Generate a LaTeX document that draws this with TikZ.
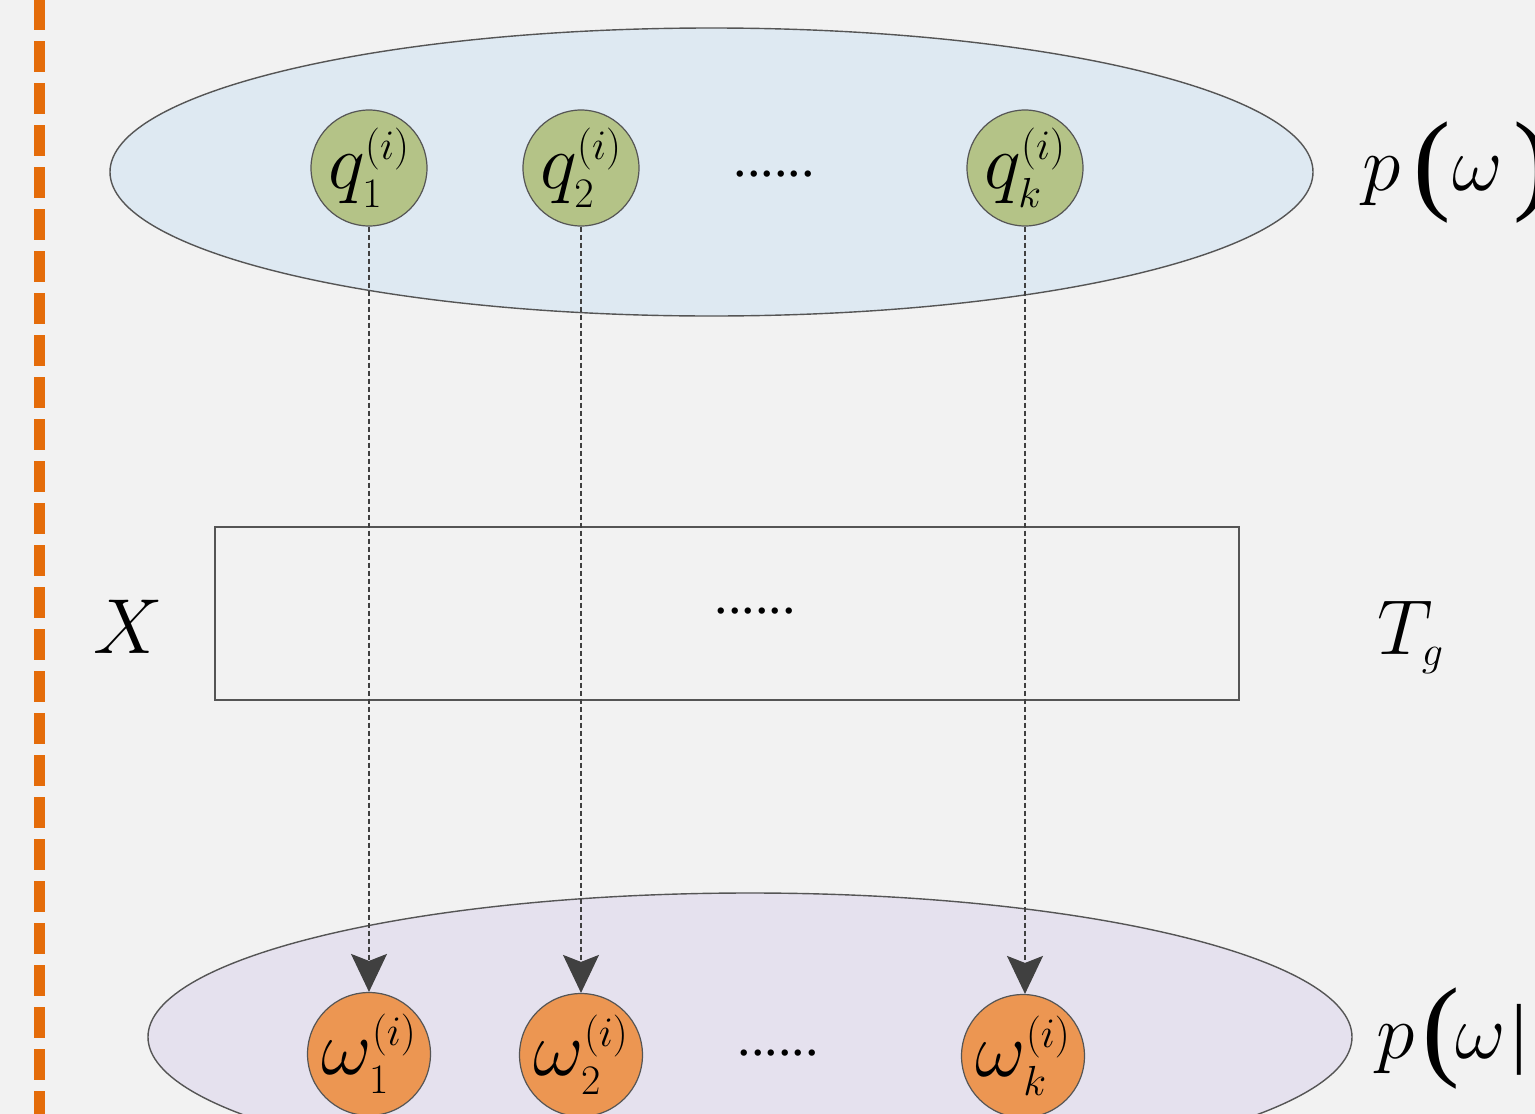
\RequirePackage{fix-cm}
\documentclass[tikz,border=0pt]{standalone}
\usepackage{fontspec}
\setmainfont{Liberation Serif}
\usetikzlibrary{arrows.meta}
\DeclareMathSizes{78}{78}{42}{30}

\definecolor{pagebg}{RGB}{242,242,242}
\definecolor{priorfill}{RGB}{222,233,242}
\definecolor{postfill}{RGB}{229,225,238}
\definecolor{qgreen}{RGB}{180,195,135}
\definecolor{worange}{RGB}{236,150,82}
\definecolor{sepline}{RGB}{228,108,10}
\definecolor{edgegray}{RGB}{85,85,85}
\definecolor{arrowgray}{RGB}{64,64,64}

\newcommand\bigtext{\fontsize{78}{90}\selectfont}
\newcommand\parenfont{\fontsize{112}{112}\selectfont}
\newcommand\dotfont{\fontsize{54}{60}\selectfont}
\newcommand\qvar[1]{$q^{(i)}_{#1}$}
\newcommand\wvar[1]{$\omega^{(i)}_{#1}$}

\tikzset{
  qnode/.style={circle, draw=edgegray, line width=1.2pt, fill=qgreen,
    minimum size=116pt, inner sep=0pt, font=\bigtext},
  wnode/.style={circle, draw=edgegray, line width=1.2pt, fill=worange,
    minimum size=116pt, inner sep=0pt, font=\bigtext},
  cloud/.style={draw=edgegray, line width=1.4pt},
  flow/.style={draw=arrowgray, line width=1.2pt, dash pattern=on 5pt off 3pt,
    -{Stealth[length=38pt, width=36pt, inset=7pt]}},
  label/.style={inner sep=0pt, anchor=base west, font=\bigtext},
  dots/.style={inner sep=0pt, font=\dotfont}
}

\begin{document}
\begin{tikzpicture}[x=1pt, y=-1pt]
  \clip (0,0) rectangle (1535,1114);
  \fill[pagebg] (0,0) rectangle (1535,1114);

  % separator on the left
  \draw[sepline, line width=11pt, dash pattern=on 31pt off 11pt] (39.5,-1) -- (39.5,1120);

  % prior and posterior regions
  \draw[cloud, fill=priorfill] (711.5,172) ellipse [x radius=601.5pt, y radius=144pt];
  \draw[cloud, fill=postfill] (750,1037) ellipse [x radius=602pt, y radius=144pt];

  % network block
  \node[draw=edgegray, line width=1.4pt, minimum width=1024pt, minimum height=173pt,
        inner sep=0pt] (net) at (727,613.5) {};
  \node[dots] (netdots) at (755,611) {......};

  % prior samples
  \node[qnode] (q1) at (369,168) {\qvar{1}};
  \node[qnode] (q2) at (581,168) {\qvar{2}};
  \node[qnode] (qk) at (1025,168) {\qvar{k}};
  \node[dots] (qdots) at (774,174) {......};

  % posterior samples
  \node[wnode] (w1) at (369,1054) {\wvar{1}};
  \node[wnode] (w2) at (581,1055) {\wvar{2}};
  \node[wnode] (wk) at (1023,1056) {\wvar{k}};
  \node[dots] (wdots) at (778,1053) {......};

  % sample mapping
  \draw[flow] (q1.south) -- (q1.south |- w1.north);
  \draw[flow] (q2.south) -- (q2.south |- w2.north);
  \draw[flow] (qk.south) -- (qk.south |- wk.north);

  % side labels
  \node[label] (xin) at (93,653) {$X$};
  \node[label] (tg) at (1377,654) {$T_g$};

  \node[label] (pp) at (1362,190) {$p$};
  \node[label] (pl) at (1413,199) {\parenfont(};
  \node[label] (pw) at (1452,190) {$\omega$};
  \node[label] (pr) at (1513,199) {\parenfont)};

  \node[label] (qp) at (1376,1058) {$p$};
  \node[label] (ql) at (1422,1065) {\parenfont(};
  \node[label] (qw) at (1455,1058) {$\omega$};
  \node[label] (qb) at (1511,1058) {|};
\end{tikzpicture}
\end{document}
